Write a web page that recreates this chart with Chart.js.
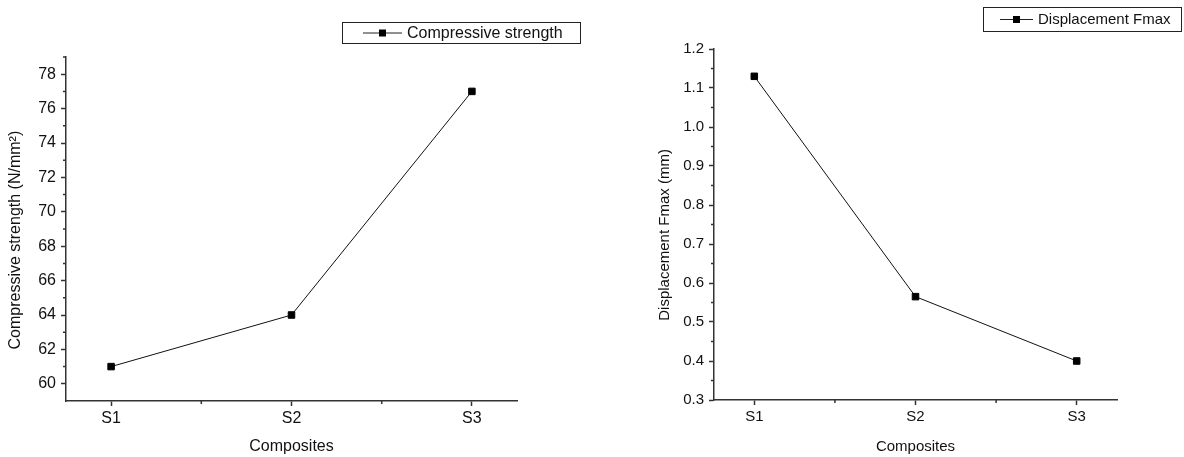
<!DOCTYPE html>
<html>
<head>
<meta charset="utf-8">
<script src="https://cdn.jsdelivr.net/npm/chart.js@4/dist/chart.umd.min.js"></script>
<style>
  body { margin: 0; background: #fff; }
  .wrap { position: absolute; top: 0; width: 592px; height: 457px; }
  #leftWrap { left: 0; }
  #rightWrap { left: 592px; }
</style>
</head>
<body>
<div class="wrap" id="leftWrap"><canvas id="strengthChart"></canvas></div>
<div class="wrap" id="rightWrap"><canvas id="dispChart"></canvas></div>
<script>
// values
const categories = ['S1', 'S2', 'S3'];
const strength = [61, 64, 77];
const displacement = [1.13, 0.565, 0.40];

const strengthTicks = [60, 62, 64, 66, 68, 70, 72, 74, 76, 78];
const strengthMinor = [61, 63, 65, 67, 69, 71, 73, 75, 77, 79];
const dispTicks = [0.3, 0.4, 0.5, 0.6, 0.7, 0.8, 0.9, 1.0, 1.1, 1.2];
const dispMinor = [0.35, 0.45, 0.55, 0.65, 0.75, 0.85, 0.95, 1.05, 1.15];
const xMinor = [0.5, 1.5];

const FAMILY = '"Liberation Sans", Arial, sans-serif';
const AXIS = '#333';

// small ticks between the labelled ones
const minorTicks = {
  id: 'minorTicks',
  afterDraw(chart, args, opts) {
    const ctx = chart.ctx;
    const xs = chart.scales.x, ys = chart.scales.y;
    ctx.save();
    ctx.strokeStyle = AXIS;
    ctx.lineWidth = 1.5;
    ctx.beginPath();
    opts.y.forEach(v => {
      const py = ys.getPixelForValue(v);
      ctx.moveTo(ys.right - opts.len, py);
      ctx.lineTo(ys.right, py);
    });
    opts.x.forEach(v => {
      const px = xs.getPixelForValue(v);
      ctx.moveTo(px, xs.top);
      ctx.lineTo(px, xs.top + opts.len);
    });
    ctx.stroke();
    ctx.restore();
  }
};

// Origin-style boxed legend: line, square marker, label
const legendBox = {
  id: 'legendBox',
  afterDraw(chart, args, o) {
    const ctx = chart.ctx;
    const ds = chart.data.datasets[0];
    const cy = o.y + o.h / 2;
    ctx.save();
    ctx.strokeStyle = '#222';
    ctx.lineWidth = 1;
    ctx.strokeRect(o.x + 0.5, o.y + 0.5, o.w, o.h);
    ctx.beginPath();
    ctx.moveTo(o.x + o.lineFrom, cy + 0.5);
    ctx.lineTo(o.x + o.lineTo, cy + 0.5);
    ctx.stroke();
    const mid = o.x + (o.lineFrom + o.lineTo) / 2;
    ctx.fillStyle = '#000';
    ctx.fillRect(mid - 3.5, cy - 3, 7, 7);
    ctx.font = o.size + 'px ' + FAMILY;
    ctx.textBaseline = 'middle';
    ctx.fillStyle = '#111';
    ctx.fillText(ds.label, o.x + o.textX, cy + 1);
    ctx.restore();
  }
};

function makeChart(id, cfg) {
  const font = { family: FAMILY, size: cfg.fontSize };
  return new Chart(document.getElementById(id), {
    type: 'line',
    data: {
      datasets: [{
        label: cfg.label,
        data: cfg.values.map((v, i) => ({ x: i, y: v })),
        borderColor: '#111',
        borderWidth: 1,
        pointStyle: 'rect',
        pointRadius: 4.6,
        pointBackgroundColor: '#000',
        pointBorderColor: '#000',
        pointBorderWidth: 1,
        tension: 0,
        fill: false
      }]
    },
    options: {
      responsive: true,
      maintainAspectRatio: false,
      animation: false,
      layout: { padding: cfg.padding },
      plugins: {
        legend: { display: false },
        tooltip: { enabled: false },
        minorTicks: { x: xMinor, y: cfg.minor, len: 3 },
        legendBox: cfg.legend
      },
      scales: {
        x: {
          type: 'linear',
          min: -0.25,
          max: 2.25,
          afterBuildTicks: s => { s.ticks = categories.map((c, i) => ({ value: i })); },
          afterFit: s => { s.height = cfg.xHeight; },
          ticks: { callback: v => categories[v], font: font, color: '#111', padding: 3, autoSkip: false, maxRotation: 0 },
          grid: { drawOnChartArea: false, tickLength: 5, tickColor: AXIS, tickWidth: 1.5 },
          border: { color: AXIS, width: 1.5 },
          title: { display: true, text: 'Composites', font: font, color: '#111', padding: { top: 0, bottom: 1 } }
        },
        y: {
          min: cfg.min,
          max: cfg.max,
          afterBuildTicks: s => { s.ticks = cfg.ticks.map(v => ({ value: v })); },
          afterFit: s => { s.width = cfg.yWidth; },
          ticks: { callback: cfg.fmt, font: font, color: '#111', padding: 5 },
          grid: { drawOnChartArea: false, tickLength: 5, tickColor: AXIS, tickWidth: 1.5 },
          border: { color: AXIS, width: 1.5 },
          title: { display: true, text: cfg.yTitle, font: font, color: '#111', padding: 0 }
        }
      }
    },
    plugins: [minorTicks, legendBox]
  });
}

makeChart('strengthChart', {
  label: 'Compressive strength',
  values: strength,
  min: 59, max: 79,
  ticks: strengthTicks,
  minor: strengthMinor,
  fmt: v => String(v),
  yTitle: 'Compressive strength (N/mm\u00b2)     ',
  fontSize: 16,
  padding: { top: 57, right: 75, bottom: 0, left: 6 },
  yWidth: 60,
  xHeight: 56,
  legend: { x: 342, y: 22, w: 238, h: 21, lineFrom: 21, lineTo: 60, textX: 65, size: 16 }
});

makeChart('dispChart', {
  label: 'Displacement Fmax',
  values: displacement,
  min: 0.3, max: 1.2,
  ticks: dispTicks,
  minor: dispMinor,
  fmt: v => v.toFixed(1),
  yTitle: 'Displacement Fmax (mm)     ',
  fontSize: 15,
  padding: { top: 49, right: 67, bottom: 0, left: 64 },
  yWidth: 58,
  xHeight: 57,
  legend: { x: 391, y: 7, w: 198, h: 24, lineFrom: 17, lineTo: 50, textX: 55, size: 15 }
});
</script>
</body>
</html>
